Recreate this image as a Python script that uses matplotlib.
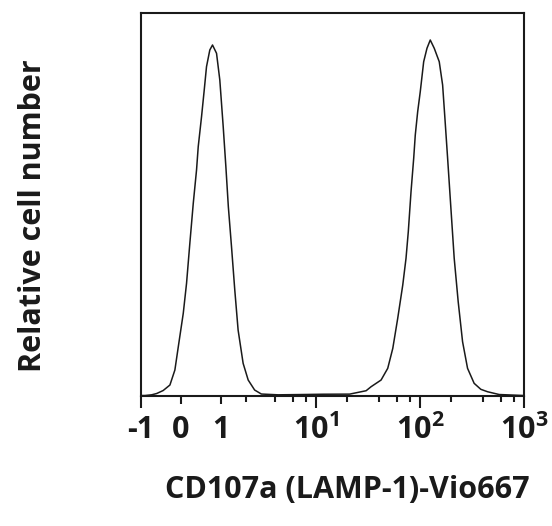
import matplotlib
matplotlib.use("Agg")
import matplotlib.pyplot as plt

plt.rcParams["font.family"] = ["Open Sans", "DejaVu Sans"]

# histogram trace (fluorescence, relative count)
fluor = [-1.0, -0.879, -0.692, -0.560, -0.400, -0.243, -0.131, -0.055, 0.055, 0.128, 0.202,
         0.280, 0.356, 0.396, 0.476, 0.543, 0.601, 0.688, 0.762, 0.877, 0.976,
         1.084, 1.173, 1.259, 1.375, 1.502, 1.639, 1.863, 2.112, 2.468, 2.893,
         4.26, 7.44, 11.6, 21.0, 30.3, 33.8, 42.2, 48.9, 54.7, 61.0,
         68.2, 73.3, 77.1, 81.9, 86.9, 90.0, 94.9, 100.5, 108.4, 116.6,
         125.4, 137.0, 153.0, 164.9, 173.5, 184.2, 198.1, 213.1, 232.8, 256.5,
         286.4, 331.4, 384.3, 445.5, 576.7, 1000.0]
count = [0.5, 0.5, 1.2, 2.5, 5.5, 11.0, 26.0, 49.3, 82.7, 112.7, 152.7,
         192.7, 226.0, 249.3, 279.3, 306.0, 329.3, 346.0, 351.0, 342.7, 316.0,
         269.3, 229.3, 189.3, 149.3, 106.0, 66.0, 32.7, 16.0, 6.0, 2.0,
         1.2, 1.5, 1.8, 1.9, 5.3, 9.3, 16.0, 27.7, 47.7, 77.7,
         111.0, 137.7, 164.3, 204.3, 237.7, 261.0, 284.3, 304.3, 334.3, 347.7,
         356.0, 347.7, 334.3, 311.0, 277.7, 237.7, 187.7, 137.7, 94.3, 54.3,
         27.7, 12.7, 6.7, 4.3, 1.5, 0.5]

major_ticks = [-1, 0, 1, 10, 100, 1000]
major_labels = ["-1", "0", "1", r"$\mathregular{10^1}$", r"$\mathregular{10^2}$",
                r"$\mathregular{10^3}$"]
minor_ticks = [2, 4, 6, 8, 20, 40, 60, 80, 200, 400, 600, 800]

fig = plt.figure(figsize=(5.52, 5.26), dpi=100)
ax = fig.add_axes([0.2554, 0.2471, 0.6939, 0.7282])
ax.plot(fluor, count, color="#1a1a1a", lw=1.1)

ax.set_xscale("asinh", linear_width=1)
ax.set_xlim(-1, 1000)
ax.set_ylim(0, 383)
ax.set_yticks([])
ax.set_xticks(major_ticks)
ax.set_xticklabels(major_labels)
ax.set_xticks(minor_ticks, minor=True)
ax.xaxis.set_minor_formatter(matplotlib.ticker.NullFormatter())
ax.tick_params(axis="x", which="major", length=8.6, width=1.5, direction="out",
               labelsize=22, pad=5, colors="#1a1a1a")
ax.tick_params(axis="x", which="minor", length=4.3, width=1.5, direction="out",
               colors="#1a1a1a")
for lab in ax.get_xticklabels():
    lab.set_fontweight("bold")
# 0 and 1 get medium-length ticks
for i, t in enumerate(ax.xaxis.get_major_ticks()):
    if major_ticks[i] in (0, 1):
        t.tick1line.set_markersize(5.8)

for s in ax.spines.values():
    s.set_linewidth(1.5)
    s.set_color("#1a1a1a")

ax.set_ylabel("Relative cell number", fontsize=22, fontweight="bold",
              color="#1a1a1a", va="center")
ax.yaxis.set_label_coords(-0.282, 0.47)
ax.set_xlabel("CD107a (LAMP-1)-Vio667", fontsize=22, fontweight="bold",
              color="#1a1a1a", va="center")
ax.xaxis.set_label_coords(0.538, -0.245)

fig.savefig("out.png", dpi=100)
